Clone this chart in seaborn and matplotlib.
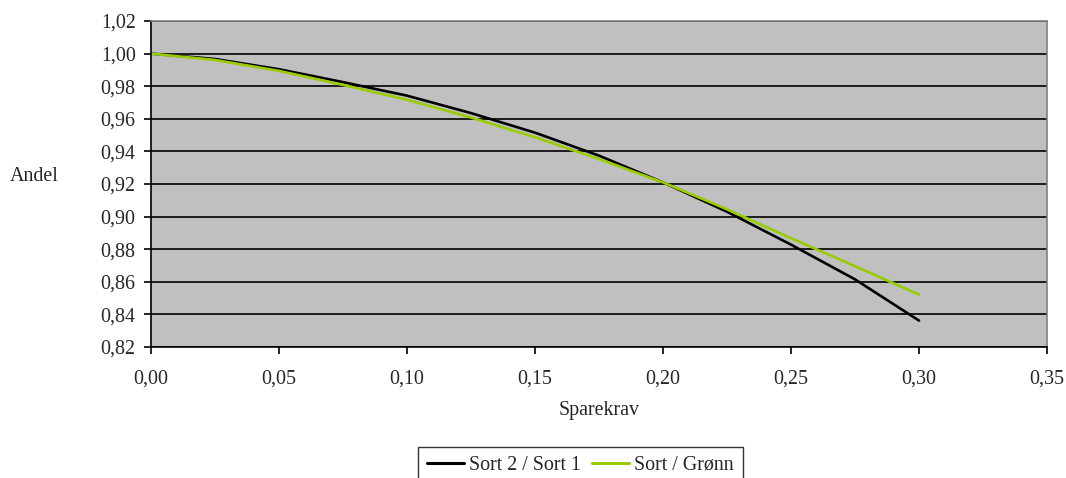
import matplotlib
matplotlib.use("Agg")
import matplotlib.pyplot as plt
import seaborn as sns
import pandas as pd
from matplotlib.ticker import FixedLocator, FuncFormatter

# Data
sparekrav = [0.000, 0.025, 0.050, 0.075, 0.100, 0.125, 0.150, 0.175, 0.200, 0.225, 0.250, 0.275, 0.300]
sort2_sort1 = [1.0000, 0.9967, 0.9904, 0.9825, 0.9742, 0.9635, 0.9515, 0.9374, 0.9210, 0.9030, 0.8828, 0.8615, 0.8362]
sort_gronn = [1.0000, 0.9961, 0.9894, 0.9808, 0.9717, 0.9608, 0.9487, 0.9353, 0.9210, 0.9045, 0.8868, 0.8696, 0.8522]
series_names = ["Sort 2 / Sort 1", "Sort / Grønn"]
x_ticks = [0.00, 0.05, 0.10, 0.15, 0.20, 0.25, 0.30, 0.35]
y_ticks = [0.82, 0.84, 0.86, 0.88, 0.90, 0.92, 0.94, 0.96, 0.98, 1.00, 1.02]

df = pd.DataFrame({
    "Sparekrav": sparekrav * 2,
    "Andel": sort2_sort1 + sort_gronn,
    "Serie": [series_names[0]] * len(sparekrav) + [series_names[1]] * len(sparekrav),
})

sns.set_style("white")
plt.rcParams["font.family"] = ["Liberation Serif", "DejaVu Serif"]
FS = 14.4

W, H = 1066, 478
fig = plt.figure(figsize=(W / 100, H / 100), dpi=100)
ax = fig.add_axes([151 / W, 1 - 347 / H, (1047 - 151) / W, (347 - 21) / H])
ax.set_facecolor("#C0C0C0")

palette = {series_names[0]: "#000000", series_names[1]: "#99CC00"}
sns.lineplot(data=df, x="Sparekrav", y="Andel", hue="Serie", palette=palette,
             linewidth=1.9, ax=ax, legend=False, sort=False)

ax.set_xlim(0, 0.35)
ax.set_ylim(0.82, 1.02)
ax.xaxis.set_major_locator(FixedLocator(x_ticks))
ax.yaxis.set_major_locator(FixedLocator(y_ticks))
fmt = FuncFormatter(lambda v, p: f"{v:.2f}".replace(".", ","))
ax.xaxis.set_major_formatter(fmt)
ax.yaxis.set_major_formatter(fmt)
ax.yaxis.grid(True, color="black", linewidth=1.2)
ax.xaxis.grid(False)
ax.set_axisbelow(True)

for s in ["left", "bottom"]:
    ax.spines[s].set_color("black")
    ax.spines[s].set_linewidth(1.2)
for s in ["top", "right"]:
    ax.spines[s].set_color("#808080")
    ax.spines[s].set_linewidth(1.2)

ax.tick_params(axis="both", which="major", direction="out", length=5, width=1.2,
               color="black", labelsize=FS, bottom=True, left=True)
ax.tick_params(axis="x", pad=11)
ax.tick_params(axis="y", pad=6)
ax.set_xlabel("")
ax.set_ylabel("")

fig.text(10 / W, 1 - 176 / H, "Andel", ha="left", va="center", fontsize=FS)
fig.text(599 / W, 1 - 410 / H, "Sparekrav", ha="center", va="center", fontsize=FS)

handles = [plt.Line2D([], [], color=palette[n], linewidth=2.2) for n in series_names]
leg = fig.legend(handles, series_names, loc="upper left",
                 bbox_to_anchor=(418 / W, 1 - 447 / H), ncol=2, fontsize=FS,
                 frameon=True, fancybox=False, handlelength=1.85, handletextpad=0.25,
                 columnspacing=0.55, borderpad=0.45, borderaxespad=0)
leg.get_frame().set_edgecolor("black")
leg.get_frame().set_linewidth(1.0)

fig.savefig("out.png", dpi=100)
